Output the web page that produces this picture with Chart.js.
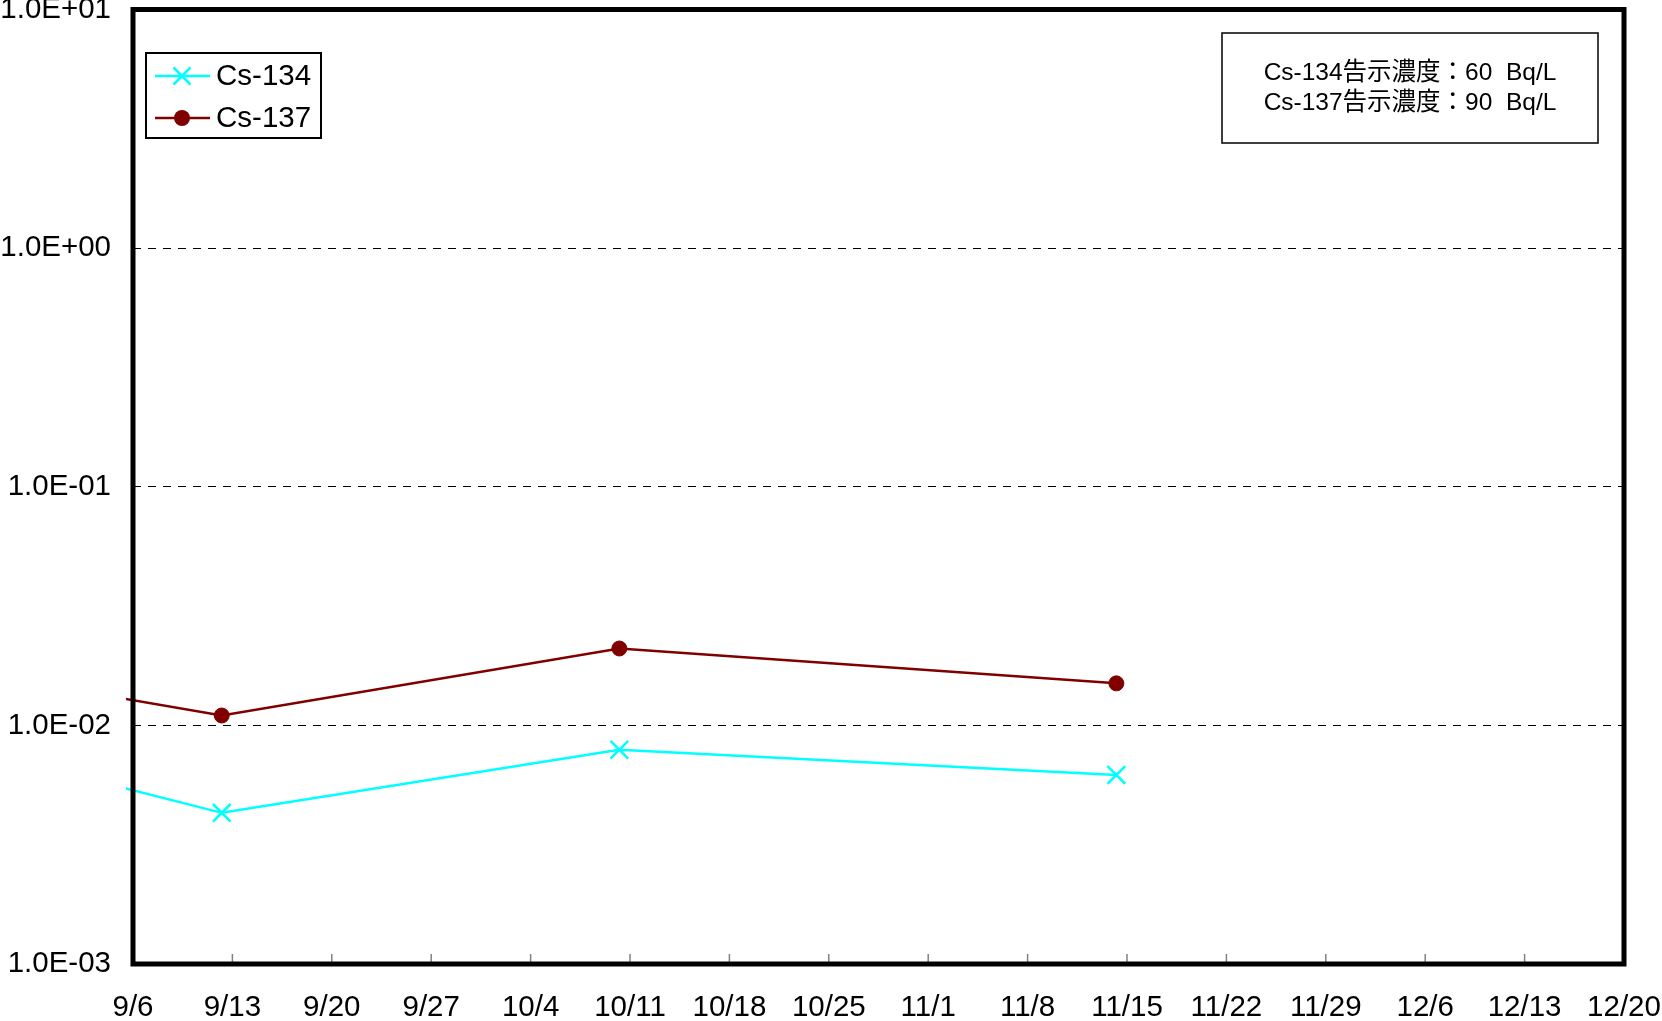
<!DOCTYPE html>
<html>
<head>
<meta charset="utf-8">
<script src="https://cdn.jsdelivr.net/npm/chart.js@4/dist/chart.umd.min.js"></script>
<style>
  body { margin: 0; background: #fff; }
  #wrap { width: 1662px; height: 1021px; position: relative; }
</style>
</head>
<body>
<div id="wrap"><canvas id="grafico"></canvas></div>
<script>
// dias desde el 9/6 (la primera muestra cae fuera del eje, a la izquierda)
var diasMuestra = [-28.75, 6.25, 34.25, 69.25];
var cs134 = [0.0145, 0.0043, 0.0079, 0.0062];
var cs137 = [0.025, 0.011, 0.021, 0.015];

var xTickLabels = ['9/6', '9/13', '9/20', '9/27', '10/4', '10/11', '10/18', '10/25', '11/1', '11/8', '11/15', '11/22', '11/29', '12/6', '12/13', '12/20'];
var yTickValues = [0.001, 0.01, 0.1, 1, 10];
var yTickLabels = ['1.0E-03', '1.0E-02', '1.0E-01', '1.0E+00', '1.0E+01'];

var notaLineas = ['Cs-134告示濃度：60  Bq/L', 'Cs-137告示濃度：90  Bq/L'];

var FUENTE = '"Liberation Sans", Arial, "Noto Sans CJK JP", sans-serif';
Chart.defaults.font.family = FUENTE;
Chart.defaults.color = '#000';

function puntos(valores) {
  return valores.map(function (v, i) { return { x: diasMuestra[i], y: v }; });
}

/*
* Marco grueso, marcas hacia adentro del eje x, leyenda y cuadro de texto
*/
var marcoPlugin = {
  id: 'marco',
  afterDatasetsDraw: function (chart) {
    var ctx = chart.ctx;
    var a = chart.chartArea;
    var xs = chart.scales.x;
    ctx.save();

    // marcas del eje x (hacia arriba)
    ctx.strokeStyle = '#808080';
    ctx.lineWidth = 1.5;
    xs.ticks.forEach(function (t, i) {
      if (i === 0 || i === xs.ticks.length - 1) return;
      var px = xs.getPixelForValue(t.value);
      ctx.beginPath();
      ctx.moveTo(px, a.bottom);
      ctx.lineTo(px, a.bottom - 10);
      ctx.stroke();
    });

    // marco
    ctx.strokeStyle = '#000';
    ctx.lineWidth = 5;
    ctx.strokeRect(a.left, a.top, a.right - a.left, a.bottom - a.top);

    // leyenda
    ctx.fillStyle = '#fff';
    ctx.fillRect(146, 53, 175, 85);
    ctx.lineWidth = 2;
    ctx.strokeStyle = '#000';
    ctx.strokeRect(146, 53, 175, 85);
    var filas = [76, 118];
    chart.data.datasets.forEach(function (ds, i) {
      var y = filas[i];
      ctx.strokeStyle = ds.borderColor;
      ctx.lineWidth = 2.5;
      ctx.beginPath();
      ctx.moveTo(155, y);
      ctx.lineTo(210, y);
      ctx.stroke();
      if (ds.pointStyle === 'crossRot') {
        var r = 8.5;
        ctx.beginPath();
        ctx.moveTo(182 - r, y - r); ctx.lineTo(182 + r, y + r);
        ctx.moveTo(182 + r, y - r); ctx.lineTo(182 - r, y + r);
        ctx.stroke();
      } else {
        ctx.fillStyle = ds.pointBackgroundColor;
        ctx.beginPath();
        ctx.arc(182, y, 8, 0, Math.PI * 2);
        ctx.fill();
      }
      ctx.fillStyle = '#000';
      ctx.font = '29.5px ' + FUENTE;
      ctx.textAlign = 'left';
      ctx.textBaseline = 'middle';
      ctx.fillText(ds.label, 216, y + 1);
    });

    // cuadro de concentraciones
    ctx.fillStyle = '#fff';
    ctx.fillRect(1222, 33, 376, 110);
    ctx.lineWidth = 1.5;
    ctx.strokeStyle = '#000';
    ctx.strokeRect(1222, 33, 376, 110);
    ctx.fillStyle = '#000';
    ctx.font = '24.5px ' + FUENTE;
    ctx.textAlign = 'center';
    ctx.textBaseline = 'middle';
    ctx.fillText(notaLineas[0], 1410, 73);
    ctx.fillText(notaLineas[1], 1410, 103);

    ctx.restore();
  }
};

new Chart(document.getElementById('grafico'), {
  type: 'line',
  data: {
    datasets: [{
      label: 'Cs-134',
      data: puntos(cs134),
      borderColor: '#00FFFF',
      backgroundColor: '#00FFFF',
      borderWidth: 2.5,
      pointStyle: 'crossRot',
      pointRadius: 12.5,
      pointBorderWidth: 2.5,
      pointBorderColor: '#00FFFF',
      pointBackgroundColor: '#00FFFF',
      tension: 0,
      clip: { left: 7, top: 0, right: 0, bottom: 0 }
    }, {
      label: 'Cs-137',
      data: puntos(cs137),
      borderColor: '#800000',
      backgroundColor: '#800000',
      borderWidth: 2.5,
      pointStyle: 'circle',
      pointRadius: 7.5,
      pointBorderWidth: 1,
      pointBorderColor: '#800000',
      pointBackgroundColor: '#800000',
      tension: 0,
      clip: { left: 7, top: 0, right: 0, bottom: 0 }
    }]
  },
  options: {
    responsive: true,
    maintainAspectRatio: false,
    animation: false,
    layout: { autoPadding: false, padding: { top: 9.5, right: 38, left: 0, bottom: 0 } },
    plugins: {
      legend: { display: false },
      tooltip: { enabled: false }
    },
    scales: {
      x: {
        type: 'linear',
        min: 0,
        max: 105,
        ticks: {
          stepSize: 7,
          autoSkip: false,
          maxRotation: 0,
          padding: 26,
          font: { size: 29.5 },
          callback: function (v, i) { return xTickLabels[i]; }
        },
        grid: { display: false, drawTicks: false },
        border: { display: false },
        afterFit: function (s) { s.height = 57; s.paddingLeft = 0; s.paddingRight = 0; }
      },
      y: {
        type: 'logarithmic',
        min: 0.001,
        max: 10,
        afterBuildTicks: function (s) {
          s.ticks = yTickValues.map(function (v) { return { value: v }; });
        },
        ticks: {
          padding: 22,
          font: { size: 29.5 },
          callback: function (v, i) { return yTickLabels[i]; }
        },
        grid: {
          drawTicks: false,
          lineWidth: 1,
          color: function (c) {
            var v = c.tick ? c.tick.value : null;
            return (v === 0.01 || v === 0.1 || v === 1) ? '#000' : 'rgba(0,0,0,0)';
          }
        },
        border: { display: false, dash: [8, 7] },
        afterFit: function (s) { s.width = 133; s.paddingTop = 0; s.paddingBottom = 0; }
      }
    }
  },
  plugins: [marcoPlugin]
});
</script>
</body>
</html>
